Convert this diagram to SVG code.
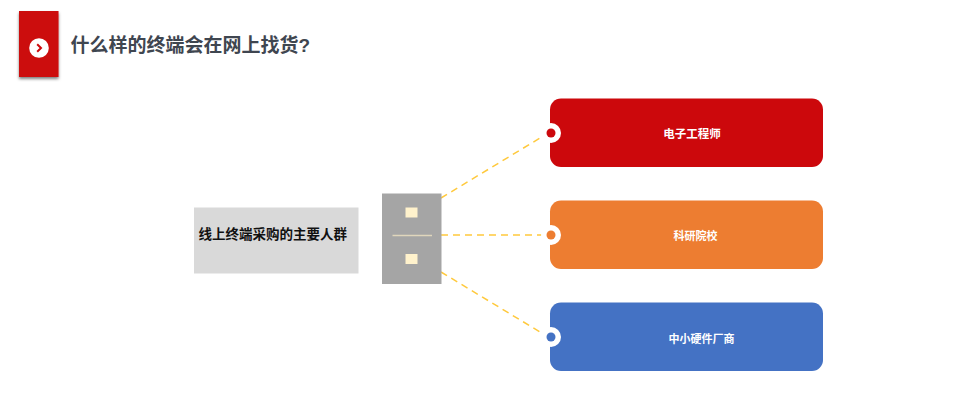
<svg xmlns="http://www.w3.org/2000/svg" width="956" height="409" viewBox="0 0 956 409">
<defs>
<filter id="sh" x="-30%" y="-20%" width="160%" height="140%"><feDropShadow dx="0" dy="2" stdDeviation="1.8" flood-color="#000" flood-opacity="0.5"/></filter>
</defs>
<style>
text{font-family:"Liberation Sans","Noto Sans CJK SC",sans-serif;font-weight:700}
.t{font-size:11px;fill:#fff;text-anchor:middle}
.c{fill:none;stroke:#ffc93c;stroke-width:1.5;stroke-dasharray:7 5}
.ring{fill:#fff}
.sq{fill:#fff2cc}
</style>
<rect width="956" height="409" fill="#fff"/>
<g id="header">
<rect x="19" y="11" width="39.500" height="66" fill="#cc080c" filter="url(#sh)"/>
<circle cx="39" cy="48" r="9.800" fill="#fff"/>
<path d="M37.200 44.300L41 48L37.200 51.700" fill="none" stroke="#cc080c" stroke-width="2"/>
<text x="70.500" y="52" font-size="19px" fill="#3f4650">什么样的终端会在网上找货?</text>
</g>
<g id="connectors">
<path class="c" d="M441 198L545 135"/>
<path class="c" d="M441 235L545 235"/>
<path class="c" d="M441 272L545 335"/>
</g>
<g id="root">
<rect x="194" y="207.500" width="164.500" height="66" fill="#d9d9d9"/>
<text x="198.500" y="239" font-size="13.500px" fill="#111">线上终端采购的主要人群</text>
</g>
<g id="bracket">
<rect x="382" y="193.500" width="59.500" height="90.500" fill="#a5a5a5"/>
<rect x="405.500" y="207.500" width="12" height="10" class="sq"/>
<rect x="405.500" y="254" width="12" height="10" class="sq"/>
<path d="M392.500 235.500H432" stroke="#e0d6bc" stroke-width="1.300"/>
</g>
<g id="node-engineer">
<rect x="550" y="98.500" width="273" height="68.500" rx="11" fill="#cc080c"/>
<circle cx="551" cy="133" r="10" class="ring"/>
<circle cx="551" cy="133" r="4.500" fill="#cc080c"/>
<text class="t" x="692" y="137.500" style="font-size:11.500px">电子工程师</text>
</g>
<g id="node-school">
<rect x="550" y="200.500" width="273" height="68.500" rx="11" fill="#ed7d31"/>
<circle cx="551" cy="235" r="10" class="ring"/>
<circle cx="551" cy="235" r="4.500" fill="#ed7d31"/>
<text class="t" x="695.500" y="240">科研院校</text>
</g>
<g id="node-vendor">
<rect x="550" y="302.500" width="273" height="68.500" rx="11" fill="#4472c4"/>
<circle cx="551" cy="337" r="10" class="ring"/>
<circle cx="551" cy="337" r="4.500" fill="#4472c4"/>
<text class="t" x="701.500" y="342.500">中小硬件厂商</text>
</g>
</svg>
